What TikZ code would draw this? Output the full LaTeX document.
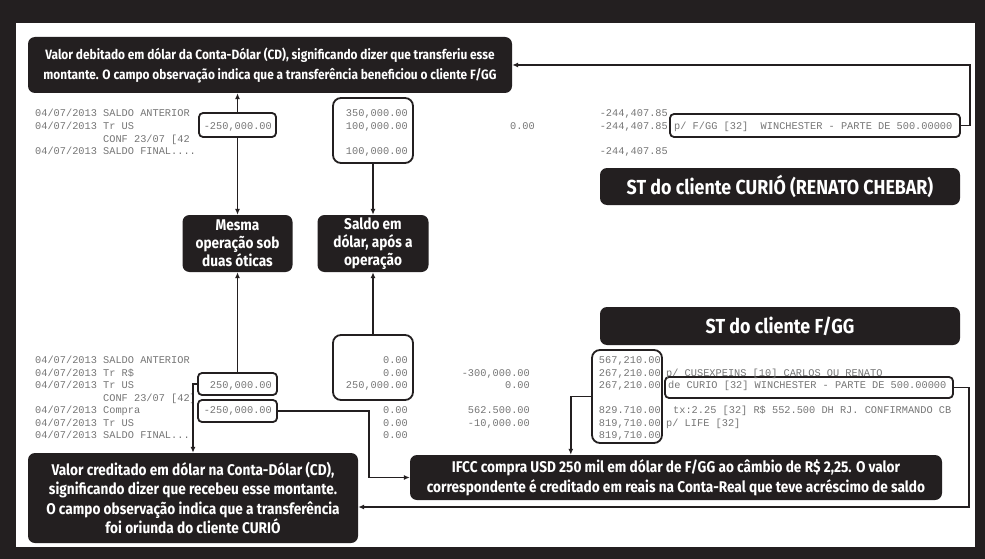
\documentclass[tikz,border=0pt]{standalone}
\usepackage{fontspec}
\setmainfont{Fira Sans}
\setmonofont{Liberation Mono}
\newfontfamily\narrowsans{Fira Sans}[FakeStretch=0.88]
\usetikzlibrary{arrows.meta,positioning,calc}
\definecolor{ink}{HTML}{231F20}
\definecolor{scan}{HTML}{767676}
\tikzset{
  note/.style={fill=ink, text=white, rounded corners=7pt, align=center, inner sep=0pt,
    font=\narrowsans\bfseries\fontsize{15.5}{19.5}\selectfont},
  notesmall/.style={note, font=\narrowsans\bfseries\fontsize{13.5}{20}\selectfont},
  noteshort/.style={note, font=\narrowsans\bfseries\fontsize{15.5}{18}\selectfont},
  notetitle/.style={note, font=\narrowsans\bfseries\fontsize{20.3}{22}\selectfont},
  valbox/.style={draw=ink, line width=1.8pt, fill=white, rounded corners=4pt, inner sep=0pt},
  tallbox/.style={valbox, rounded corners=8pt},
  stmt/.style={font=\ttfamily\fontsize{10.3}{12}\selectfont, text=scan, inner sep=0pt},
  link/.style={-{Latex[length=6pt,width=5pt]}, line width=1.4pt, draw=ink},
}

\begin{document}
\begin{tikzpicture}[x=1pt, y=-1pt]
  % frame
  \fill[ink] (0,0) rectangle (985,559);
  \fill[white] (16,23) rectangle (975,547);
  \useasboundingbox (0,0) rectangle (985,559);
  % callouts
  \node[notesmall, minimum width=484pt, minimum height=56pt] (debit) at (270,65)
    {Valor debitado em dólar da Conta-Dólar (CD), significando dizer que transferiu esse\\montante. O campo observação indica que a transferência beneficiou o cliente F/GG};
  \node[notetitle, minimum width=360pt, minimum height=37pt] (stcurio) at (780,186.5) {ST do cliente CURIÓ (RENATO CHEBAR)};
  \node[noteshort, minimum width=110pt, minimum height=57pt] (mesma) at (237.5,243.5) {Mesma\\operação sob\\duas óticas};
  \node[noteshort, minimum width=111pt, minimum height=57pt] (saldo) at (373,243.5) {Saldo em\\dólar, após a\\operação};
  \node[notetitle, minimum width=360pt, minimum height=38pt] (stfgg) at (780,326) {ST do cliente F/GG};
  \node[note, minimum width=330pt, minimum height=90pt] (recv) at (193,498)
    {Valor creditado em dólar na Conta-Dólar (CD),\\significando dizer que recebeu esse montante.\\O campo observação indica que a transferência\\foi oriunda do cliente CURIÓ};
  \node[note, minimum width=532pt, minimum height=45pt] (ifcc) at (676,477.5)
    {IFCC compra USD 250 mil em dólar de F/GG ao câmbio de R\$ 2,25. O valor\\correspondente é creditado em reais na Conta-Real que teve acréscimo de saldo};
  % boxes round the values
  \node[valbox, minimum width=77pt, minimum height=24pt] (dtop) at (237.5,125) {};
  \node[tallbox, minimum width=80pt, minimum height=65pt] (stop) at (373,130.5) {};
  \node[valbox, minimum width=290pt, minimum height=23pt] (fggtop) at (815,125.5) {};
  \node[tallbox, minimum width=80pt, minimum height=65pt] (stbot) at (373,367.5) {};
  \node[valbox, minimum width=79pt, minimum height=22pt] (cbot) at (237.5,384) {};
  \node[valbox, minimum width=79pt, minimum height=22pt] (dbot) at (237.5,411) {};
  \node[tallbox, minimum width=70pt, minimum height=93pt] (rbot) at (627,396.5) {};
  \node[valbox, minimum width=288pt, minimum height=21pt] (curbot) at (809,387.5) {};
  % statement of CURIO
  \node[stmt, anchor=mid west] (ta1) at (35,114) {04/07/2013 SALDO ANTERIOR};
  \node[stmt, anchor=mid west] (ta2) at (35,127) {04/07/2013 Tr US};
  \node[stmt, anchor=mid west] (ta3) at (103,139.5) {CONF 23/07 [42};
  \node[stmt, anchor=mid west] (ta4) at (35,152) {04/07/2013 SALDO FINAL....};
  \node[stmt, anchor=mid east] (tb2) at (272,127) {-250,000.00};
  \node[stmt, anchor=mid east] (tc1) at (408,114) {350,000.00};
  \node[stmt, anchor=mid east] (tc2) at (408,127) {100,000.00};
  \node[stmt, anchor=mid east] (tc4) at (408,152) {100,000.00};
  \node[stmt, anchor=mid east] (td2) at (535,127) {0.00};
  \node[stmt, anchor=mid east] (te1) at (668,114) {-244,407.85};
  \node[stmt, anchor=mid east] (te2) at (668,127) {-244,407.85};
  \node[stmt, anchor=mid east] (te4) at (668,152) {-244,407.85};
  \node[stmt, anchor=mid west] (tf2) at (674,127) {p/ F/GG [32]\ \ WINCHESTER - PARTE DE 500.00000};
  % statement of F/GG
  \node[stmt, anchor=mid west] (ba1) at (35,361) {04/07/2013 SALDO ANTERIOR};
  \node[stmt, anchor=mid west] (ba2) at (35,373.5) {04/07/2013 Tr R\$};
  \node[stmt, anchor=mid west] (ba3) at (35,386) {04/07/2013 Tr US};
  \node[stmt, anchor=mid west] (ba4) at (103,398.5) {CONF 23/07 [42]};
  \node[stmt, anchor=mid west] (ba5) at (35,411) {04/07/2013 Compra};
  \node[stmt, anchor=mid west] (ba6) at (35,423.5) {04/07/2013 Tr US};
  \node[stmt, anchor=mid west] (ba7) at (35,436) {04/07/2013 SALDO FINAL....};
  \node[stmt, anchor=mid east] (bb3) at (272,386) {250,000.00};
  \node[stmt, anchor=mid east] (bb5) at (272,411) {-250,000.00};
  \node[stmt, anchor=mid east] (bc1) at (408,361) {0.00};
  \node[stmt, anchor=mid east] (bc2) at (408,373.5) {0.00};
  \node[stmt, anchor=mid east] (bc3) at (408,386) {250,000.00};
  \node[stmt, anchor=mid east] (bc5) at (408,411) {0.00};
  \node[stmt, anchor=mid east] (bc6) at (408,423.5) {0.00};
  \node[stmt, anchor=mid east] (bc7) at (408,436) {0.00};
  \node[stmt, anchor=mid east] (bd2) at (530,373.5) {-300,000.00};
  \node[stmt, anchor=mid east] (bd3) at (530,386) {0.00};
  \node[stmt, anchor=mid east] (bd5) at (530,411) {562.500.00};
  \node[stmt, anchor=mid east] (bd6) at (530,423.5) {-10,000.00};
  \node[stmt, anchor=mid east] (be1) at (661,361) {567,210.00};
  \node[stmt, anchor=mid east] (be2) at (661,373.5) {267,210.00};
  \node[stmt, anchor=mid east] (be3) at (661,386) {267,210.00};
  \node[stmt, anchor=mid east] (be5) at (661,411) {829.710.00};
  \node[stmt, anchor=mid east] (be6) at (661,423.5) {819,710.00};
  \node[stmt, anchor=mid east] (be7) at (661,436) {819,710.00};
  \node[stmt, anchor=mid west] (bf2) at (666,373.5) {p/ CUSEXPEINS [10] CARLOS OU RENATO};
  \node[stmt, anchor=mid west] (bf3) at (668,386) {de CURIO [32] WINCHESTER - PARTE DE 500.00000};
  \node[stmt, anchor=mid west] (bf5) at (673,411) {tx:2.25 [32] R\$ 552.500 DH RJ. CONFIRMANDO CB};
  \node[stmt, anchor=mid west] (bf6) at (666,423.5) {p/ LIFE [32]};
  % arrows
  \draw[link] (dtop.north) -- (dtop.north |- debit.south);
  \draw[link] (dtop.south) -- (mesma.north);
  \draw[link] (stop.south) -- (saldo.north);
  \draw[link] (cbot.north) -- (mesma.south);
  \draw[link] (stbot.north) -- (saldo.south);
  \draw[link] (fggtop.east) -- ++(9,0) |- (debit.east);
  \draw[link] (cbot.west) -| (recv.north);
  \draw[link] (dbot.east) -- ++(91,0) |- (ifcc.west);
  \draw[link] (rbot.west) -| ($(ifcc.north west)+(161,0)$);
  \draw[link] (curbot.east) -- ++(15,0) |- ($(recv.east)+(0,9)$);
\end{tikzpicture}
\end{document}
